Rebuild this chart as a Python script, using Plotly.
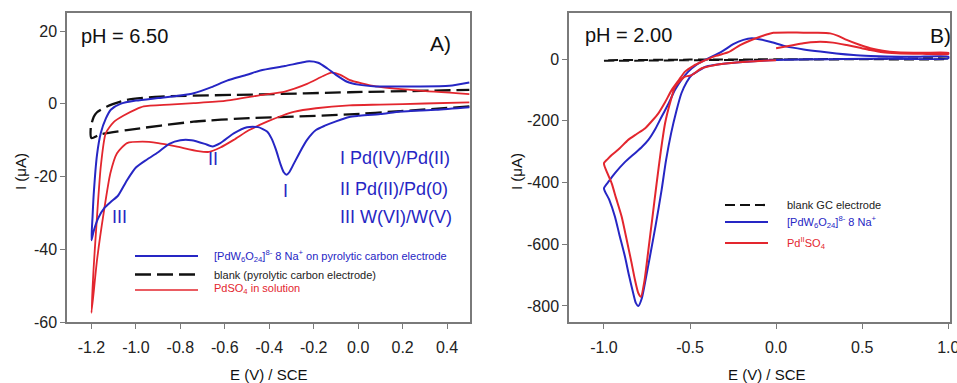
import plotly.graph_objects as go

# ---------------- Panel A data (pH 6.50) ----------------
blueA_E = [0.50, 0.35, 0.19, 0.10, 0.00, -0.04, -0.10, -0.15, -0.19, -0.23, -0.26, -0.29, -0.31, -0.322,
           -0.335, -0.35, -0.37, -0.39, -0.41, -0.45, -0.50, -0.56, -0.62, -0.656, -0.69, -0.75, -0.80,
           -0.85, -0.90, -0.95, -1.00, -1.04, -1.08, -1.11, -1.14, -1.17, -1.19, -1.20,
           -1.195, -1.19, -1.175, -1.158, -1.135, -1.113, -1.07, -1.00, -0.90, -0.80, -0.74, -0.66, -0.59,
           -0.50, -0.44, -0.33, -0.26, -0.22, -0.18, -0.14, -0.10, -0.05, 0.00, 0.08, 0.26, 0.41, 0.50]
blueA_I = [-0.9, -1.6, -2.1, -2.8, -3.3, -3.6, -4.8, -6.0, -7.2, -9.9, -13.0, -16.5, -18.8, -19.5,
           -18.8, -16.5, -12.6, -9.5, -7.6, -6.4, -6.4, -8.1, -10.8, -11.7, -11.0, -10.0, -10.0,
           -11.0, -13.3, -15.3, -17.5, -21.0, -25.2, -26.8, -28.5, -31.5, -35.0, -37.5,
           -31.0, -25.0, -14.0, -8.0, -4.0, -1.6, 0.0, 0.9, 1.6, 2.3, 2.9, 4.6, 6.4,
           8.0, 9.2, 10.4, 11.3, 11.7, 11.3, 9.8, 8.0, 6.1, 5.3, 4.8, 4.8, 5.0, 5.9]

redA_E = [0.50, 0.30, 0.10, -0.04, -0.19, -0.29, -0.34, -0.41, -0.49, -0.56, -0.62, -0.67, -0.72, -0.82,
          -0.90, -0.97, -1.04, -1.085, -1.115, -1.145, -1.175, -1.20,
          -1.19, -1.18, -1.158, -1.136, -1.10, -1.055, -1.00, -0.965, -0.85, -0.74, -0.60, -0.44, -0.33,
          -0.23, -0.16, -0.12, -0.08, -0.04, 0.08, 0.26, 0.50]
redA_I = [0.4, 0.1, -0.2, -0.4, -1.2, -2.2, -3.2, -4.9, -7.2, -9.9, -12.0, -13.2, -13.0, -11.7,
          -10.8, -10.4, -10.8, -13.6, -19.1, -30.0, -43.0, -57.5,
          -45.0, -35.5, -17.2, -8.1, -5.0, -3.2, -1.5, -0.7, -0.2, 0.2, 0.8, 2.4, 3.4,
          5.5, 7.6, 8.6, 8.0, 6.6, 4.8, 3.7, 2.7]

blankA_E = [0.50, 0.19, -0.04, -0.29, -0.49, -0.74, -1.04, -1.16, -1.20,
            -1.203, -1.19, -1.175, -1.13, -1.04, -0.89, -0.44, -0.04, 0.50]
blankA_I = [-0.7, -2.0, -2.9, -3.5, -3.9, -4.9, -7.2, -8.4, -9.4,
            -6.5, -3.6, -2.3, -0.7, 1.1, 2.0, 2.6, 3.2, 3.85]

# ---------------- Panel B data (pH 2.00) ----------------
blueB_E = [0.00, -0.15, -0.28, -0.41, -0.45, -0.49, -0.52, -0.55, -0.58, -0.61, -0.64, -0.665, -0.70,
           -0.733, -0.76, -0.78, -0.80, -0.815, -0.83, -0.855, -0.878, -0.91, -0.936, -0.97, -1.00,
           -0.97, -0.936, -0.88, -0.82, -0.78, -0.742, -0.70, -0.665, -0.625, -0.587, -0.55, -0.51, -0.46,
           -0.413, -0.316, -0.249, -0.19, -0.141, -0.09, -0.03, 0.062, 0.16, 0.256, 0.35, 0.45, 0.55,
           0.644, 0.80, 1.00,
           1.00, 0.70, 0.40, 0.20, 0.00]
blueB_I = [-3, -8, -14, -25, -38, -52, -75, -111, -170, -241, -330, -424, -540,
           -640, -720, -775, -800, -790, -759, -700, -640, -570, -511, -455, -419,
           -395, -370, -335, -305, -285, -262, -225, -187, -145, -100, -68, -41, -18,
           -3, 24, 48, 62, 67, 63, 55, 40, 31, 24, 18, 13, 10,
           8, 7, 8,
           2, 1, 0, -1, -3]

redB_E = [0.00, -0.15, -0.277, -0.36, -0.432, -0.49, -0.51, -0.529, -0.56, -0.587, -0.615, -0.645, -0.67,
          -0.694, -0.72, -0.742, -0.765, -0.785, -0.80, -0.82, -0.839, -0.87, -0.897, -0.93, -0.955,
          -0.98, -1.00,
          -0.98, -0.955, -0.91, -0.859, -0.81, -0.762, -0.72, -0.684, -0.645, -0.606, -0.565, -0.529,
          -0.48, -0.432, -0.35, -0.277, -0.209, -0.15, -0.093, -0.05, -0.016, 0.07, 0.158, 0.24, 0.314,
          0.36, 0.41, 0.48, 0.547, 0.62, 0.702, 0.85, 1.00,
          1.00, 0.85, 0.70, 0.62, 0.547, 0.48, 0.41, 0.33, 0.256, 0.20, 0.158, 0.08, 0.00]
redB_I = [-4, -8, -14, -20, -30, -52, -55, -57, -72, -90, -140, -208, -300,
          -403, -520, -619, -720, -770, -759, -715, -662, -580, -511, -450, -403,
          -370, -338,
          -325, -311, -290, -262, -243, -225, -200, -176, -140, -100, -68, -41,
          -22, -9, 10, 22, 45, 60, 72, 80, 85, 86, 85, 85, 83,
          75, 62, 47, 35, 27, 22, 20, 20,
          16, 17, 19, 22, 29, 37, 45, 53, 56, 54, 51, 43, 35]

blankB_E = [-1.00, -0.75, -0.50, -0.25, 0.00, 0.50, 1.00, 1.00, 0.50, 0.00, -0.50, -1.00]
blankB_I = [-6, -5, -4, -3, -2, -1, 0, 1, 0, -1, -2, -4]

# ---------------- tick labels ----------------
xA_ticks = [-1.2, -1.0, -0.8, -0.6, -0.4, -0.2, 0.0, 0.2, 0.4]
xA_text = ["-1.2", "-1.0", "-0.8", "-0.6", "-0.4", "-0.2", "0.0", "0.2", "0.4"]
yA_ticks = [-60, -40, -20, 0, 20]
yA_text = ["-60", "-40", "-20", "0", "20"]
xB_ticks = [-1.0, -0.5, 0.0, 0.5, 1.0]
xB_text = ["-1.0", "-0.5", "0.0", "0.5", "1.0"]
yB_ticks = [-800, -600, -400, -200, 0]
yB_text = ["-800", "-600", "-400", "-200", "0"]

BLUE = "#2626c4"
RED = "#e3262e"
BLACK = "#111111"
FRAME = "#7a7a7a"
FONT = "Liberation Sans, Arial, sans-serif"

W, H = 957, 383
def px(x):
    return x / W
def py(y):
    return 1 - y / H

fig = go.Figure()

def add(E, I, color, width, dash, xa, ya):
    fig.add_trace(go.Scatter(x=E, y=I, mode="lines", xaxis=xa, yaxis=ya, showlegend=False,
                             line=dict(color=color, width=width, dash=dash, shape="spline", smoothing=0.6),
                             hoverinfo="skip"))

add(blankA_E, blankA_I, BLACK, 2.3, "16px,6px", "x", "y")
add(redA_E, redA_I, RED, 1.8, "solid", "x", "y")
add(blueA_E, blueA_I, BLUE, 2.0, "solid", "x", "y")

add(blankB_E, blankB_I, BLACK, 2.0, "10px,5px", "x2", "y2")
add(blueB_E, blueB_I, BLUE, 2.0, "solid", "x2", "y2")
add(redB_E, redB_I, RED, 2.0, "solid", "x2", "y2")

axis_common = dict(showline=True, linecolor=FRAME, linewidth=1.5, mirror=True, ticks="outside",
                   ticklen=5, tickwidth=1.2, tickcolor=FRAME, showgrid=False, zeroline=False,
                   automargin=False, ticklabeloverflow="allow",
                   tickfont=dict(family=FONT, size=16, color="#222"))

fig.update_layout(
    width=W, height=H, margin=dict(l=0, r=0, t=0, b=0, autoexpand=False),
    paper_bgcolor="white", plot_bgcolor="white",
    xaxis=dict(domain=[px(67), px(470)], range=[-1.31, 0.503], tickvals=xA_ticks, ticktext=xA_text,
               anchor="y", ticklabelstandoff=5, **axis_common),
    yaxis=dict(domain=[py(322), py(13)], range=[-60, 25], tickvals=yA_ticks, ticktext=yA_text,
               anchor="x", **axis_common),
    xaxis2=dict(domain=[px(569), px(950)], range=[-1.203, 1.01], tickvals=xB_ticks, ticktext=xB_text,
                anchor="y2", ticklabelstandoff=5, **axis_common),
    yaxis2=dict(domain=[py(322), py(13)], range=[-852, 149], tickvals=yB_ticks, ticktext=yB_text,
                anchor="x2", **axis_common),
)

ann = []
def text(x, y, s, size, color="#111", xanchor="left", yanchor="middle"):
    ann.append(dict(x=px(x), y=py(y), xref="paper", yref="paper", text=s, showarrow=False,
                    xanchor=xanchor, yanchor=yanchor, font=dict(family=FONT, size=size, color=color)))

# axis titles
text(269, 374, "E (V) / SCE", 15, xanchor="center")
text(767, 374, "E (V) / SCE", 15, xanchor="center")
ann.append(dict(x=px(20), y=py(172), xref="paper", yref="paper", text="I (μA)", showarrow=False,
                textangle=-90, xanchor="center", yanchor="middle", font=dict(family=FONT, size=15, color="#111")))
ann.append(dict(x=px(516), y=py(172), xref="paper", yref="paper", text="I (μA)", showarrow=False,
                textangle=-90, xanchor="center", yanchor="middle", font=dict(family=FONT, size=15, color="#111")))

# panel labels
text(79, 36, "pH = 6.50", 20)
text(453, 43, "A)", 21, xanchor="right")
text(583, 35, "pH = 2.00", 20)
text(953, 35, "B)", 21, xanchor="right")

# peak labels panel A
text(338, 158, "I Pd(IV)/Pd(II)", 18, color=BLUE)
text(338, 189, "II Pd(II)/Pd(0)", 18, color=BLUE)
text(338, 217, "III W(VI)/W(V)", 18, color=BLUE)
text(213, 159, "II", 18, color=BLUE, xanchor="center")
text(285, 191, "I", 18, color=BLUE, xanchor="center")
text(120, 217, "III", 18, color=BLUE, xanchor="center")

# legend A
shapes = []
def legline(x0, x1, y, color, width, dash):
    shapes.append(dict(type="line", xref="paper", yref="paper", x0=px(x0), x1=px(x1), y0=py(y), y1=py(y),
                       line=dict(color=color, width=width, dash=dash)))

legline(135, 198, 256, BLUE, 2.2, "solid")
legline(135, 198, 274.5, BLACK, 2.5, "16px,6px")
legline(135, 198, 290, RED, 1.5, "solid")
text(212, 256, "[PdW<sub>6</sub>O<sub>24</sub>]<sup>8-</sup> 8 Na<sup>+</sup> on pyrolytic carbon electrode", 11, color=BLUE)
text(212, 275, "blank (pyrolytic carbon electrode)", 11, color="#222")
text(212, 289, "PdSO<sub>4</sub> in solution", 11, color=RED)

# legend B
legline(725, 768, 205, BLACK, 2.2, "10px,5px")
legline(725, 768, 222, BLUE, 1.8, "solid")
legline(725, 768, 243, RED, 1.8, "solid")
text(785, 205, "blank GC electrode", 11, color="#222")
text(785, 222, "[PdW<sub>6</sub>O<sub>24</sub>]<sup>8-</sup> 8 Na<sup>+</sup>", 11, color=BLUE)
text(785, 243, "Pd<sup>II</sup>SO<sub>4</sub>", 11, color=RED)

fig.update_layout(annotations=ann, shapes=shapes)
fig.write_html("out.html", config={"displayModeBar": False},
               post_script="document.body.style.margin='0';document.body.style.overflow='hidden';")
